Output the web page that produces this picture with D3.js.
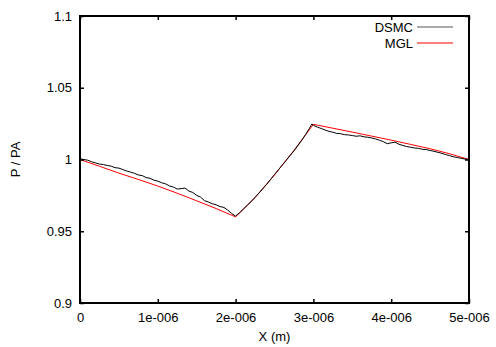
<!DOCTYPE html>
<html><head><meta charset="utf-8">
<script src="https://cdn.jsdelivr.net/npm/d3@7"></script>
<style>
body{margin:0;background:#fff;}
text{font-family:"Liberation Sans",Arial,sans-serif;font-size:13px;fill:#000;}
</style></head>
<body>
<svg id="c" width="496" height="347"></svg>
<script>
// x positions in micrometres (scaled by 1e-6 on the axis)
const xTicks = [0, 1e-6, 2e-6, 3e-6, 4e-6, 5e-6];
const xTickLabels = ["0", "1e-006", "2e-006", "3e-006", "4e-006", "5e-006"];
const yTicks = [0.9, 0.95, 1.0, 1.05, 1.1];
const yTickLabels = ["0.9", "0.95", "1", "1.05", "1.1"];

const dsmcX = [0.00,0.05,0.10,0.15,0.20,0.25,0.30,0.35,0.40,0.45,0.50,0.55,0.60,0.65,0.70,0.75,0.80,0.85,0.90,0.95,
1.00,1.05,1.10,1.15,1.20,1.25,1.30,1.35,1.40,1.45,1.50,1.55,1.60,1.65,1.70,1.75,1.80,1.85,1.90,1.95,
2.00,2.05,2.10,2.15,2.20,2.25,2.30,2.35,2.40,2.45,2.50,2.55,2.60,2.65,2.70,2.75,2.80,2.85,2.90,2.95,2.98,
3.00,3.05,3.10,3.15,3.20,3.25,3.30,3.35,3.40,3.45,3.50,3.55,3.60,3.65,3.70,3.75,3.80,3.85,3.90,3.95,
4.00,4.05,4.10,4.15,4.20,4.25,4.30,4.35,4.40,4.45,4.50,4.55,4.60,4.65,4.70,4.75,4.80,4.85,4.90,4.95,5.00];
const dsmcP = [1.0005,1.0000,0.9995,0.9984,0.9976,0.9968,0.9965,0.9958,0.9954,0.9943,0.9940,0.9930,0.9920,0.9912,0.9904,0.9892,0.9888,0.9874,0.9869,0.9856,
0.9849,0.9838,0.9830,0.9816,0.9808,0.9794,0.9797,0.9801,0.9780,0.9770,0.9750,0.9738,0.9713,0.9704,0.9692,0.9684,0.9672,0.9666,0.9647,0.9624,
0.9606,0.9629,0.9655,0.9681,0.9707,0.9736,0.9766,0.9797,0.9827,0.9861,0.9895,0.9928,0.9961,0.9994,1.0027,1.0060,1.0096,1.0134,1.0174,1.0218,1.0248,
1.0238,1.0226,1.0216,1.0206,1.0196,1.0190,1.0182,1.0180,1.0173,1.0171,1.0167,1.0162,1.0165,1.0158,1.0155,1.0150,1.0143,1.0134,1.0124,1.0110,
1.0116,1.0121,1.0106,1.0098,1.0090,1.0086,1.0080,1.0078,1.0071,1.0069,1.0063,1.0057,1.0050,1.0043,1.0034,1.0027,1.0019,1.0014,1.0008,1.0003,1.0000];

const mglX = [0,0.25,0.5,0.75,1.0,1.25,1.5,1.75,2.0,2.25,2.5,2.75,3.0,3.25,3.5,3.75,4.0,4.25,4.5,4.75,5.0];
const mglP = [1.0,0.9953,0.9905,0.9861,0.9815,0.9765,0.9712,0.9658,0.9600,0.9735,0.9893,1.0063,1.0245,1.0218,1.0191,1.0163,1.0135,1.0105,1.0075,1.0040,1.0000];

const seriesNames = ["DSMC", "MGL"];
const seriesColors = ["#000000", "#ff0000"];

const L = 80, R = 469, T = 16, B = 303;
const svg = d3.select("#c");
const x = d3.scaleLinear().domain([0, 5e-6]).range([L, R]);
const y = d3.scaleLinear().domain([0.9, 1.1]).range([B, T]);

const line = d3.line().x(d => x(d[0] * 1e-6)).y(d => y(d[1]));
const dsmc = dsmcX.map((v, i) => [v, dsmcP[i]]);
const mgl = mglX.map((v, i) => [v, mglP[i]]);

svg.append("path").datum(mgl).attr("d", line)
  .attr("fill", "none").attr("stroke", seriesColors[1]).attr("stroke-width", 1);
svg.append("path").datum(dsmc).attr("d", line)
  .attr("fill", "none").attr("stroke", seriesColors[0]).attr("stroke-width", 1);

// axes with inward ticks on all sides
const fmtX = (d, i) => xTickLabels[i];
const fmtY = (d, i) => yTickLabels[i];
const gB = svg.append("g").attr("transform", `translate(0,${B})`)
  .call(d3.axisBottom(x).tickValues(xTicks).tickFormat(fmtX).tickSizeInner(-4).tickSizeOuter(0).tickPadding(10));
const gT = svg.append("g").attr("transform", `translate(0,${T})`)
  .call(d3.axisTop(x).tickValues(xTicks).tickFormat("").tickSizeInner(-4).tickSizeOuter(0));
const gL = svg.append("g").attr("transform", `translate(${L},0)`)
  .call(d3.axisLeft(y).tickValues(yTicks).tickFormat(fmtY).tickSizeInner(-4).tickSizeOuter(0).tickPadding(8));
const gR = svg.append("g").attr("transform", `translate(${R},0)`)
  .call(d3.axisRight(y).tickValues(yTicks).tickFormat("").tickSizeInner(-4).tickSizeOuter(0));
[gB, gT, gL, gR].forEach(g => {
  g.select(".domain").remove();
  g.selectAll("line").attr("stroke", "#000").attr("stroke-width", 1.5);
  g.selectAll("text").attr("font-family", "Liberation Sans, Arial, sans-serif").attr("font-size", 13).attr("fill", "#000");
});

svg.append("rect").attr("x", L).attr("y", T).attr("width", R - L).attr("height", B - T)
  .attr("fill", "none").attr("stroke", "#000").attr("stroke-width", 2);

// axis titles
svg.append("text").attr("x", (L + R) / 2).attr("y", 341).attr("text-anchor", "middle").text("X (m)");
svg.append("text").attr("transform", `translate(20,${(T + B) / 2}) rotate(-90)`)
  .attr("text-anchor", "middle").text("P / PA");

// legend
const leg = svg.append("g");
seriesNames.forEach((n, i) => {
  const yy = 27 + i * 16;
  leg.append("text").attr("x", 413).attr("y", yy).attr("dy", "0.35em").attr("text-anchor", "end").text(n);
  leg.append("line").attr("x1", 417).attr("x2", 453).attr("y1", yy).attr("y2", yy)
    .attr("stroke", i === 0 ? "#555" : seriesColors[i]).attr("stroke-width", 1);
});
</script>
</body></html>
